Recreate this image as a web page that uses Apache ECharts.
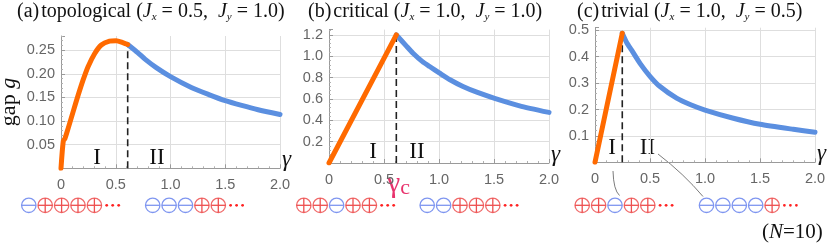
<!DOCTYPE html>
<html><head><meta charset="utf-8">
<script src="https://cdn.jsdelivr.net/npm/echarts@6/dist/echarts.min.js"></script>
<style>html,body{margin:0;padding:0;background:#fff}#c{width:831px;height:243px}</style>
</head><body><div id="c"></div>
<script>
// ---- data ----
const panelTitles = ['topological', 'critical', 'trivial'];
const panelLetters = ['(a)', '(b)', '(c)'];
const jxValues = ['0.5', '1.0', '1.0'];
const jyValues = ['1.0', '1.0', '0.5'];
const xTickLabels = ['0', '0.5', '1.0', '1.5', '2.0'];

// panel (a) topological
const gammaA_I  = [0, 0.021, 0.036, 0.066, 0.111, 0.157, 0.202, 0.247, 0.308, 0.368, 0.443, 0.504, 0.564, 0.609];
const gapA_I    = [0, 0.058, 0.063, 0.085, 0.120, 0.155, 0.187, 0.215, 0.243, 0.261, 0.269, 0.270, 0.266, 0.262];
const gammaA_II = [0.609, 0.700, 0.767, 0.870, 1.0, 1.19, 1.35, 1.5, 1.65, 1.8, 2.0];
const gapA_II   = [0.262, 0.245, 0.231, 0.213, 0.194, 0.171, 0.156, 0.143, 0.133, 0.124, 0.114];
// panel (b) critical
const gammaB_I  = [0, 0.612];
const gapB_I    = [0, 1.2];
const gammaB_II = [0.612, 0.70, 0.764, 0.85, 0.915, 1.006, 1.10, 1.218, 1.35, 1.506, 1.733, 2.0];
const gapB_II   = [1.2, 1.10, 1.029, 0.95, 0.904, 0.842, 0.78, 0.717, 0.661, 0.606, 0.536, 0.474];
// panel (c) trivial
const gammaC_I  = [0, 0.248];
const gapC_I    = [0, 0.489];
const gammaC_II = [0.248, 0.29, 0.333, 0.409, 0.5, 0.591, 0.742, 0.87, 1.0, 1.258, 1.5, 1.803, 2.0];
const gapC_II   = [0.489, 0.452, 0.425, 0.375, 0.326, 0.287, 0.243, 0.218, 0.198, 0.167, 0.144, 0.125, 0.114];
// transition points (dashed lines)
const gammaCrit = [0.609, 0.612, 0.248];
const gapCrit   = [0.262, 1.2, 0.489];
// spin configurations below each panel
const configs = [
  [['-','+','+','+','+'], ['-','-','-','+','+']],
  [['+','+','-','+','+'], ['-','-','+','+','+']],
  [['+','+','-','+','+'], ['-','-','-','-','+']]
];

// ---- styling / layout ----
const SERIF = '"Liberation Serif","Times New Roman",serif';
const SANS = '"Liberation Sans",Arial,sans-serif';
const ORANGE = '#ff6a00', BLUE = '#5b8fe0';
const grids = [
  {left: 61, top: 36, width: 219, height: 132.3, outerBoundsMode: 'none', containLabel: false},
  {left: 329, top: 29.6, width: 220, height: 133.4, outerBoundsMode: 'none', containLabel: false},
  {left: 595, top: 27.7, width: 220, height: 134.6, outerBoundsMode: 'none', containLabel: false}
];
const yMax = [0.28, 1.25, 0.51], yInt = [0.05, 0.2, 0.1], yDec = [2, 1, 1];
const zip = (a, b) => a.map((v, i) => [v, b[i]]);

const xAxes = grids.map((g, i) => ({
  gridIndex: i, type: 'value', min: 0, max: 2, interval: 0.5,
  axisLine: {onZero: false, lineStyle: {color: '#9a9a9a'}},
  axisTick: {inside: true, length: 4, lineStyle: {color: '#9a9a9a'}},
  minorTick: {show: true, splitNumber: 5, length: 2, lineStyle: {color: '#b0b0b0'}},
  splitLine: {show: true, showMinLine: false, lineStyle: {color: '#dedede'}},
  axisLabel: {margin: 9, color: '#666', fontFamily: SANS, fontSize: 14.5,
    formatter: v => xTickLabels[Math.round(v / 0.5)] || ''}
}));
const yAxes = grids.map((g, i) => ({
  gridIndex: i, type: 'value', min: 0, max: yMax[i], interval: yInt[i],
  axisLine: {show: true, lineStyle: {color: '#9a9a9a'}},
  axisTick: {show: true, inside: true, length: 4, lineStyle: {color: '#9a9a9a'}},
  minorTick: {show: true, splitNumber: 5, length: 2, lineStyle: {color: '#b0b0b0'}},
  splitLine: {show: true, showMinLine: false, showMaxLine: false, lineStyle: {color: '#dedede'}},
  axisLabel: {margin: 6, color: '#666', fontFamily: SANS, fontSize: 14.5,
    showMinLabel: false, showMaxLabel: false, formatter: v => v.toFixed(yDec[i])}
}));

const curves = [
  [gammaA_I, gapA_I, gammaA_II, gapA_II],
  [gammaB_I, gapB_I, gammaB_II, gapB_II],
  [gammaC_I, gapC_I, gammaC_II, gapC_II]
];
const series = [];
curves.forEach((c, i) => {
  series.push({type: 'line', xAxisIndex: i, yAxisIndex: i, data: [[gammaCrit[i], 0], [gammaCrit[i], gapCrit[i]]],
    symbol: 'none', silent: true, z: 1, lineStyle: {color: '#222', width: 1.6, type: [7, 4]}});
  series.push({type: 'line', xAxisIndex: i, yAxisIndex: i, data: zip(c[0], c[1]), symbol: 'none',
    smooth: i === 0 ? 0.25 : false, z: 3, lineStyle: {color: ORANGE, width: 5, cap: 'round', join: 'round'}});
  series.push({type: 'line', xAxisIndex: i, yAxisIndex: i, data: zip(c[2], c[3]), symbol: 'none',
    smooth: 0.2, z: 2, lineStyle: {color: BLUE, width: 5, cap: 'round', join: 'round'}});
});

// ---- text helpers: plain text pieces laid out by measured width ----
const mctx = document.createElement('canvas').getContext('2d');
function fontStr(size, italic) { return (italic ? 'italic ' : '') + size + 'px ' + SERIF; }
function measure(t, size, italic) { mctx.font = fontStr(size, italic); return mctx.measureText(t).width; }
const graphics = [];
function pieces(x, y, list, fill) {
  let cx = x;
  list.forEach(p => {
    const size = p.size, it = !!p.it;
    graphics.push({type: 'text', x: cx, y: y + (p.dy || 0), style: {
      text: p.t, fontFamily: SERIF, fontSize: size, fontStyle: it ? 'italic' : 'normal',
      fill: p.fill || fill || '#111', align: 'left', verticalAlign: 'middle'}});
    cx += measure(p.t, size, it) + (p.gap || 0);
  });
}

// titles
const titleX = [17, 308, 577];
const TS = 20;
panelTitles.forEach((t, i) => {
  pieces(titleX[i], 12, [
    {t: panelLetters[i], size: TS, gap: 2},
    {t: t + ' (', size: TS},
    {t: 'J', size: TS, it: true},
    {t: 'x', size: 11, it: true, dy: 5},
    {t: ' = ' + jxValues[i] + ',  ', size: TS},
    {t: 'J', size: TS, it: true},
    {t: 'y', size: 11, it: true, dy: 5},
    {t: ' = ' + jyValues[i] + ')', size: TS}
  ]);
});
// y-axis name "gap g" (rotated)
graphics.push({type: 'group', x: 9, y: 102, rotation: Math.PI / 2, children: (function () {
  const w1 = measure('gap ', 22, false), w2 = measure('g', 22, true), tot = w1 + w2;
  return [
    {type: 'text', x: -tot / 2, y: 0, style: {text: 'gap ', fontFamily: SERIF, fontSize: 22, fill: '#111', align: 'left', verticalAlign: 'middle'}},
    {type: 'text', x: -tot / 2 + w1, y: 0, style: {text: 'g', fontFamily: SERIF, fontSize: 22, fontStyle: 'italic', fill: '#111', align: 'left', verticalAlign: 'middle'}}
  ];
})()});
// region labels
const romanPos = [[97, 158, 157, 158], [373, 152, 417, 152], [612, 148, 647.5, 148]];
romanPos.forEach(p => {
  graphics.push({type: 'text', x: p[0], y: p[1], style: {text: 'I', fontFamily: SERIF, fontSize: 23, fill: '#111', align: 'center', verticalAlign: 'middle'}});
  graphics.push({type: 'text', x: p[2], y: p[3], style: {text: 'II', fontFamily: SERIF, fontSize: 23, fill: '#111', align: 'center', verticalAlign: 'middle'}});
});
// gamma at the end of each x axis
grids.forEach((g, i) => {
  graphics.push({type: 'text', x: g.left + g.width + 2, y: g.top + g.height - 8, style: {text: 'γ', fontFamily: SERIF, fontSize: 23, fontStyle: 'italic', fill: '#111', align: 'left', verticalAlign: 'middle'}});
});
// gamma_c
pieces(387, 184, [
  {t: 'γ', size: 30, fill: '#e8336d'},
  {t: 'c', size: 22, dy: 4, fill: '#e8336d'}
]);
// (N=10)
pieces(762, 232, [
  {t: '(', size: 21},
  {t: 'N', size: 21, it: true},
  {t: '=10)', size: 21}
]);
// spin configurations
const rowStarts = [[28.8, 152.7], [303.8, 427.2], [582.2, 706.5]];
const rowY = 205.3, step = 16.4, R = 7.2;
const RED = '#f06a6a', RED2 = '#ee4f4f', BLU = '#7f96f0';
configs.forEach((pair, i) => {
  pair.forEach((cfg, k) => {
    const x0 = rowStarts[i][k];
    cfg.forEach((s, j) => {
      const cx = x0 + j * step;
      const col = s === '+' ? RED : BLU;
      graphics.push({type: 'circle', shape: {cx, cy: rowY, r: R}, style: {fill: '#fff', stroke: col, lineWidth: 1.3}});
      graphics.push({type: 'line', shape: {x1: cx - R, y1: rowY, x2: cx + R, y2: rowY}, style: {stroke: s === '+' ? RED2 : BLU, lineWidth: 1.3}});
      if (s === '+') graphics.push({type: 'line', shape: {x1: cx, y1: rowY - R, x2: cx, y2: rowY + R}, style: {stroke: RED2, lineWidth: 1.3}});
    });
    const last = x0 + 4 * step;
    for (let d = 0; d < 3; d++) {
      graphics.push({type: 'circle', shape: {cx: last + 12.3 + d * 6, cy: rowY, r: 1.4}, style: {fill: '#ff2222'}});
    }
  });
});
graphics.push({type: 'bezierCurve', shape: {x1: 613, y1: 171, x2: 619.5, y2: 195.5, cpx1: 613.5, cpy1: 190}, style: {stroke: '#444', lineWidth: 0.7, fill: 'none'}});
graphics.push({type: 'bezierCurve', shape: {x1: 658, y1: 154, x2: 703, y2: 196.5, cpx1: 684, cpy1: 174}, style: {stroke: '#444', lineWidth: 0.7, fill: 'none'}});

const chart = echarts.init(document.getElementById('c'));
chart.setOption({
  animation: false,
  backgroundColor: '#fff',
  grid: grids,
  xAxis: xAxes,
  yAxis: yAxes,
  series: series,
  graphic: graphics
});
</script></body></html>
